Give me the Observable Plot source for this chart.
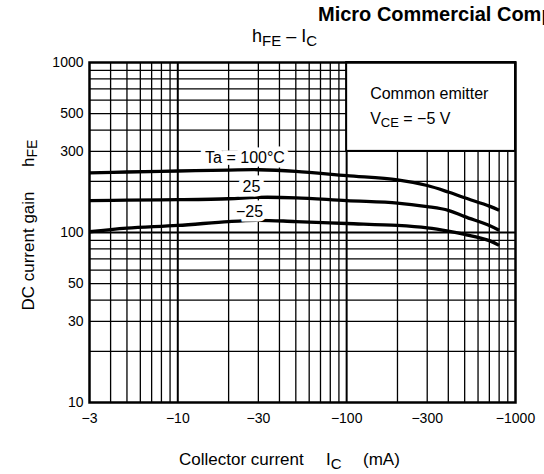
<!DOCTYPE html>
<html><head><meta charset="utf-8">
<script src="https://cdn.jsdelivr.net/npm/d3@7"></script>
<script src="https://cdn.jsdelivr.net/npm/@observablehq/plot@0.6"></script>
<style>
html,body{margin:0;padding:0;background:#fff;overflow:hidden;}
#chart{width:544px;height:474px;position:relative;}
</style></head><body><div id="chart"></div>
<script>
// Tick labels and grid
const xTicks = [-3, -10, -30, -100, -300, -1000];
const yTicks = [10, 30, 50, 100, 300, 500, 1000];
const xGridMinor = [-4, -5, -6, -7, -8, -9, -20, -30, -40, -50, -60, -70, -80, -90, -200, -300, -400, -500, -600, -700, -800, -900];
const xGridDecade = [-10, -100];
const yGridMinor = [20, 30, 40, 50, 60, 70, 80, 90, 200, 300, 400, 500, 600, 700, 800, 900];
const yGridDecade = [100];

// Series (collector current in mA, hFE)
const ic      = [-3, -5, -10, -20, -30, -50, -100, -200, -300, -400, -500, -700, -800];
const hfe100  = [224, 227, 230, 233, 234, 229, 216, 204, 189, 173, 160, 143, 135];
const hfe25   = [154, 155, 156, 158, 161, 160, 154, 149, 142, 135, 124, 110, 103];
const hfeM25  = [101, 106, 110, 116, 118, 116, 113, 110, 106.5, 102, 97.5, 89.6, 84];
const seriesNames = ["Ta = 100°C", "25", "−25"];

const curveLabels = [
  {label: "Ta = 100°C", ic: -25, hfe: 276},
  {label: "25", ic: -27.3, hfe: 186},
  {label: "−25", ic: -26.6, hfe: 131.6}
];
const noteBox = [{x1: -100, x2: -1000, y1: 300, y2: 1000}];

const rows = [hfe100, hfe25, hfeM25].flatMap((vals, si) =>
  ic.map((c, i) => ({series: seriesNames[si], ic: c, hfe: vals[i]})));

const FONT = "'Liberation Sans', Arial, Helvetica, sans-serif";

const plot = Plot.plot({
  width: 544, height: 474,
  marginLeft: 89, marginRight: 29, marginTop: 62, marginBottom: 72,
  x: {type: "log", domain: [-3, -1000]},
  y: {type: "log", domain: [10, 1000]},
  style: {fontFamily: FONT, fontSize: "14px", color: "black", background: "white", overflow: "visible"},
  marks: [
    Plot.ruleX(xGridMinor, {stroke: "black", strokeWidth: 1.3}),
    Plot.ruleX(xGridDecade, {stroke: "black", strokeWidth: 2}),
    Plot.ruleY(yGridMinor, {stroke: "black", strokeWidth: 1.3}),
    Plot.ruleY(yGridDecade, {stroke: "black", strokeWidth: 1.8}),
    Plot.rect(noteBox, {x1: "x1", x2: "x2", y1: "y1", y2: "y2", fill: "white", stroke: "black", strokeWidth: 2}),
    Plot.line(rows, {x: "ic", y: "hfe", z: "series", stroke: "black", strokeWidth: 3.3, curve: "catmull-rom", strokeLinecap: "butt"}),
    Plot.text(curveLabels, {x: "ic", y: "hfe", text: "label", fontSize: 16, fill: "black", stroke: "white", strokeWidth: 9, paintOrder: "stroke", strokeLinejoin: "miter"}),
    Plot.frame({stroke: "black", strokeWidth: 2.5}),
    Plot.axisX({ticks: xTicks, tickSize: 0, tickPadding: 11, tickFormat: d => "−" + Math.abs(d), label: null, fontSize: 14}),
    Plot.axisY({ticks: yTicks, tickSize: 0, tickPadding: 6, tickFormat: d => String(d), label: null, fontSize: 14})
  ]
});
document.getElementById("chart").appendChild(plot);

const svg = d3.select(plot);
const sx = plot.scale("x");
const g = svg.append("g").attr("font-family", FONT).attr("fill", "black").attr("text-anchor", "start");

// Header
g.append("text").attr("x", 318).attr("y", 20.5).attr("font-size", 20).attr("font-weight", "bold")
  .text("Micro Commercial Components");
const t = g.append("text").attr("x", 252).attr("y", 42).attr("font-size", 18);
t.append("tspan").text("h");
t.append("tspan").attr("font-size", 15).attr("dy", 4).text("FE");
t.append("tspan").attr("dy", -4).text(" – I");
t.append("tspan").attr("font-size", 15).attr("dy", 4).text("C");

// Note inside box
const bx = sx.apply(noteBox[0].x1) + 24;
g.append("text").attr("x", bx).attr("y", 98.5).attr("font-size", 16).text("Common emitter");
const v = g.append("text").attr("x", bx).attr("y", 124).attr("font-size", 16);
v.append("tspan").text("V");
v.append("tspan").attr("font-size", 13).attr("dy", 3).text("CE");
v.append("tspan").attr("dy", -3).text(" = −5 V");

// Axis titles
const xl = g.append("text").attr("y", 465).attr("font-size", 17);
xl.append("tspan").attr("x", 179).text("Collector current");
xl.append("tspan").attr("x", 326).text("I");
xl.append("tspan").attr("font-size", 15).attr("dy", 4).text("C");
xl.append("tspan").attr("x", 363).attr("dy", -4).text("(mA)");

g.append("text").attr("transform", "translate(34,251) rotate(-90)").attr("text-anchor", "middle")
  .attr("font-size", 17).text("DC current gain");
const yl = g.append("text").attr("transform", "translate(34,167) rotate(-90)").attr("font-size", 17);
yl.append("tspan").text("h");
yl.append("tspan").attr("font-size", 14).attr("dy", 3).text("FE");
</script></body></html>
